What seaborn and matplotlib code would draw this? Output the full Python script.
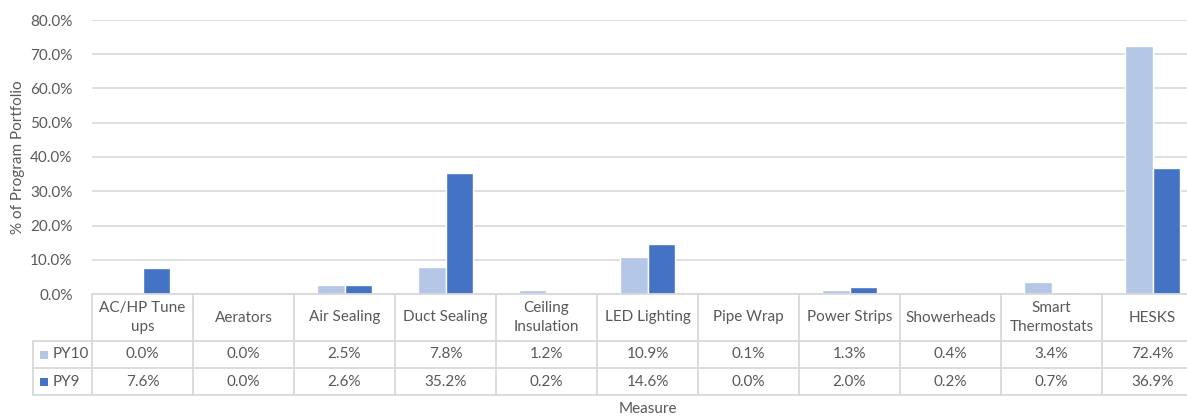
import matplotlib
matplotlib.use("Agg")
import matplotlib.pyplot as plt
import matplotlib.transforms as mtransforms
from matplotlib.lines import Line2D
from matplotlib.patches import Rectangle
import seaborn as sns
import pandas as pd

# Measures and their share of the program portfolio (%)
measures = ["AC/HP Tune ups", "Aerators", "Air Sealing", "Duct Sealing",
            "Ceiling Insulation", "LED Lighting", "Pipe Wrap", "Power Strips",
            "Showerheads", "Smart Thermostats", "HESKS"]
header_labels = ["AC/HP Tune\nups", "Aerators", "Air Sealing", "Duct Sealing",
                 "Ceiling\nInsulation", "LED Lighting", "Pipe Wrap", "Power Strips",
                 "Showerheads", "Smart\nThermostats", "HESKS"]
py10 = [0.0, 0.0, 2.5, 7.8, 1.2, 10.9, 0.1, 1.3, 0.4, 3.4, 72.4]
py9 = [7.6, 0.0, 2.6, 35.2, 0.2, 14.6, 0.0, 2.0, 0.2, 0.7, 36.9]
years = ["PY10", "PY9"]
colors = {"PY10": "#B4C7E7", "PY9": "#4472C4"}
yticks = [0, 10, 20, 30, 40, 50, 60, 70, 80]

df = pd.DataFrame({
    "Measure": measures * 2,
    "Year": ["PY10"] * len(measures) + ["PY9"] * len(measures),
    "Value": py10 + py9,
})

sns.set_theme(style="white")
plt.rcParams["font.family"] = ["Lato", "DejaVu Sans"]
FS = 11

W, H = 1187, 417
fig = plt.figure(figsize=(W / 100, H / 100), dpi=100)
left_px, right_px, top_px, bottom_px = 92, 1203, 20, 294
ax = fig.add_axes([left_px / W, 1 - bottom_px / H,
                   (right_px - left_px) / W, (bottom_px - top_px) / H])

sns.barplot(data=df, x="Measure", y="Value", hue="Year", order=measures,
            hue_order=years, palette=colors, width=0.554, gap=0,
            saturation=1, legend=False, ax=ax, zorder=3)

grid_c = "#D9D9D9"
text_c = "#595959"
ax.set_xlim(-0.5, len(measures) - 0.5)
ax.set_ylim(0, 80)
ax.set_yticks(yticks)
ax.set_yticklabels([f"{v:.1f}%" for v in yticks], color=text_c, fontsize=FS)
ax.tick_params(axis="y", length=0, pad=14)
ax.set_xticks([])
ax.set_xlabel("")
ax.set_ylabel("")
ax.grid(axis="y", color=grid_c, linewidth=1.2, zorder=0)
for s in ax.spines.values():
    s.set_visible(False)

# Data table beneath the plot area
def fy(px):
    return 1 - px / H

def fx(px):
    return px / W

bt = mtransforms.blended_transform_factory(ax.transData, fig.transFigure)
ft = fig.transFigure
row_header_top, row1_top, row2_top, table_bottom = 294, 341, 368, 395
legend_left = 33

def hline(x0, x1, y, trans):
    fig.add_artist(Line2D([x0, x1], [y, y], transform=trans, color=grid_c,
                          linewidth=1.3, clip_on=False))

def vline(x, y0, y1, trans):
    fig.add_artist(Line2D([x, x], [y0, y1], transform=trans, color=grid_c,
                          linewidth=1.3, clip_on=False))

# horizontal rules
hline(fx(left_px), fx(right_px), fy(row_header_top), ft)
for y in (row1_top, row2_top, table_bottom):
    hline(fx(legend_left), fx(right_px), fy(y), ft)

# vertical rules
vline(fx(legend_left), fy(row1_top), fy(table_bottom), ft)
for i in range(len(measures) + 1):
    vline(i - 0.5, fy(row_header_top), fy(table_bottom), bt)

# header labels
for i, lab in enumerate(header_labels):
    fig.text(i, fy((row_header_top + row1_top) / 2), lab, transform=bt,
             ha="center", va="center", color=text_c, fontsize=FS,
             linespacing=1.45)

# value rows with legend keys
for rtop, rbot, name, vals in ((row1_top, row2_top, "PY10", py10),
                               (row2_top, table_bottom, "PY9", py9)):
    yc = fy((rtop + rbot) / 2)
    for i, v in enumerate(vals):
        fig.text(i, yc, f"{v:.1f}%", transform=bt, ha="center", va="center",
                 color=text_c, fontsize=FS)
    fig.add_artist(Rectangle((fx(40), yc - 4 / H), 8 / W, 8 / H, transform=ft,
                             facecolor=colors[name], edgecolor="none"))
    fig.text(fx(53), yc, name, transform=ft, ha="left", va="center",
             color=text_c, fontsize=FS)

# axis titles
fig.text((left_px + right_px) / 2 / W, fy(409), "Measure", ha="center",
         va="center", color=text_c, fontsize=FS)
fig.text(fx(18), fy((top_px + bottom_px) / 2), "% of Program Portfolio",
         rotation=90, ha="center", va="center", color=text_c, fontsize=FS)

fig.savefig("out.png", dpi=100)
